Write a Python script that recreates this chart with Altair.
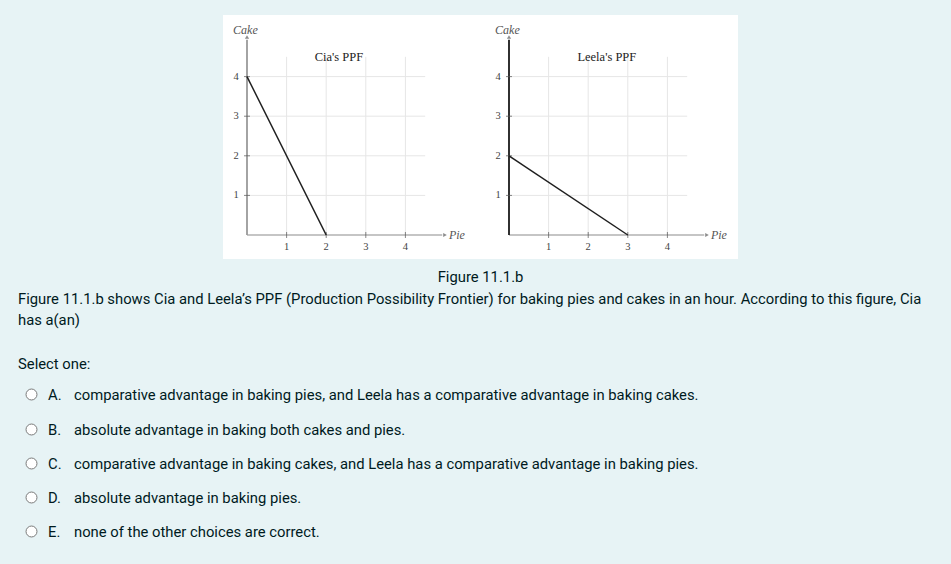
import altair as alt
import pandas as pd

W, H = 951, 564
BG = "#e7f3f5"
TXT = "#001a1e"
SANS = "Roboto"
SERIF = "Liberation Serif"

# ---- data ----
tick_values = [1, 2, 3, 4]
tick_labels = ["1", "2", "3", "4"]
cia_pie = [0, 2]
cia_cake = [4, 0]
leela_pie = [0, 3]
leela_cake = [2, 0]
titles = ["Cia's PPF", "Leela's PPF"]

caption = "Figure 11.1.b"
question = [
    "Figure 11.1.b shows Cia and Leela\u2019s PPF (Production Possibility Frontier) for baking pies and cakes in an hour. According to this figure, Cia",
    "has a(an)",
]
prompt = "Select one:"
letters = ["A.", "B.", "C.", "D.", "E."]
choices = [
    "comparative advantage in baking pies, and Leela has a comparative advantage in baking cakes.",
    "absolute advantage in baking both cakes and pies.",
    "comparative advantage in baking cakes, and Leela has a comparative advantage in baking pies.",
    "absolute advantage in baking pies.",
    "none of the other choices are correct.",
]

ONE = alt.Data(values=[{}])


def panel(ox, oy, unit, pie, cake, title, title_x, yaxis_color, yaxis_w):
    xs = alt.Scale(domain=[-ox / unit, (W - ox) / unit], range=[0, W], nice=False, zero=False)
    ys = alt.Scale(domain=[(oy - H) / unit, oy / unit], range=[H, 0], nice=False, zero=False)
    X = lambda f, **k: alt.X(f, scale=xs, axis=None, **k)
    Y = lambda f, **k: alt.Y(f, scale=ys, axis=None, **k)

    g = pd.DataFrame({"v": tick_values, "lab": tick_labels, "lo": 0.0, "hi": 4.5})
    vgrid = alt.Chart(g).mark_rule(color="#e6e6e6", strokeWidth=1).encode(
        x=X("v:Q"), y=Y("lo:Q"), y2="hi:Q")
    hgrid = alt.Chart(g).mark_rule(color="#e6e6e6", strokeWidth=1).encode(
        y=Y("v:Q"), x=X("lo:Q"), x2="hi:Q")

    ax = pd.DataFrame({"a": [0.0], "b": [4.93], "end": [5.0]})
    xaxis = alt.Chart(ax).mark_rule(color="#8c8c8c", strokeWidth=1.2).encode(
        x=X("a:Q"), x2="b:Q", y=Y("a:Q"))
    yaxis = alt.Chart(ax).mark_rule(color=yaxis_color, strokeWidth=yaxis_w).encode(
        y=Y("a:Q"), y2="b:Q", x=X("a:Q"))
    xarrow = alt.Chart(ax).mark_point(shape="triangle-right", filled=True, size=18,
                                      color="#8c8c8c", opacity=1).encode(
        x=X("end:Q"), y=Y("a:Q"))
    yarrow = alt.Chart(ax).mark_point(shape="triangle-up", filled=True, size=18,
                                      color="#8c8c8c", opacity=1).encode(
        x=X("a:Q"), y=Y("end:Q"))

    xticks = alt.Chart(g).mark_tick(orient="vertical", size=6, thickness=1, color="#555").encode(
        x=X("v:Q"), y=Y("lo:Q"))
    yticks = alt.Chart(g).mark_tick(orient="horizontal", size=6, thickness=1, color="#555").encode(
        y=Y("v:Q"), x=X("lo:Q"))
    xlabs = alt.Chart(g).mark_text(font=SERIF, fontSize=10.5, color="#444", dy=12,
                                   baseline="middle", align="center").encode(
        x=X("v:Q"), y=Y("lo:Q"), text="lab:N")
    ylabs = alt.Chart(g).mark_text(font=SERIF, fontSize=10.5, color="#444", dx=-11,
                                   baseline="middle", align="center").encode(
        y=Y("v:Q"), x=X("lo:Q"), text="lab:N")

    ppf = alt.Chart(pd.DataFrame({"pie": pie, "cake": cake})).mark_line(
        color="#1e1e1e", strokeWidth=1.5).encode(x=X("pie:Q"), y=Y("cake:Q"))

    lab = pd.DataFrame({"t": [title], "tx": [title_x], "ty": [4.5],
                        "cx": [-0.04], "cy": [5.18], "px": [5.1], "py": [0.0],
                        "cake": ["Cake"], "pie": ["Pie"]})
    ttl = alt.Chart(lab).mark_text(font=SERIF, fontSize=12.5, color="#222",
                                   baseline="middle", align="center").encode(
        x=X("tx:Q"), y=Y("ty:Q"), text="t:N")
    cake_t = alt.Chart(lab).mark_text(font=SERIF, fontSize=12, fontStyle="italic", color="#555",
                                      baseline="middle", align="center").encode(
        x=X("cx:Q"), y=Y("cy:Q"), text="cake:N")
    pie_t = alt.Chart(lab).mark_text(font=SERIF, fontSize=12, fontStyle="italic", color="#555",
                                     baseline="middle", align="left").encode(
        x=X("px:Q"), y=Y("py:Q"), text="pie:N")

    return alt.layer(vgrid, hgrid, xaxis, yaxis, xarrow, yarrow, xticks, yticks,
                     xlabs, ylabs, ppf, ttl, cake_t, pie_t)


left = panel(247, 235, 39.6, cia_pie, cia_cake, titles[0], 2.32, "#9a9a9a", 1.8)
right = panel(509, 235, 39.6, leela_pie, leela_cake, titles[1], 2.47, "#1a1a1a", 1.8)

box = alt.Chart(ONE).mark_rect(color="white").encode(
    x=alt.value(223), x2=alt.value(738), y=alt.value(15), y2=alt.value(259))


def line(txt, x, y, align="left", size=14.8):
    return alt.Chart(ONE).mark_text(text=txt, font=SANS, fontSize=size, color=TXT,
                                    align=align, baseline="alphabetic").encode(
        x=alt.value(x), y=alt.value(y))


texts = [line(caption, 480.5, 282, align="center"),
         line(question[0], 18, 304),
         line(question[1], 18, 325),
         line(prompt, 18, 369)]

opt_base = [400, 435, 469, 503, 537]
for i in range(5):
    texts.append(alt.Chart(ONE).mark_point(shape="circle", filled=True, fill="white",
                                           stroke="#7a7a7a", strokeWidth=1, size=120,
                                           opacity=1).encode(
        x=alt.value(31.5), y=alt.value(opt_base[i] - 5.5)))
    texts.append(line(letters[i], 48, opt_base[i]))
    texts.append(line(choices[i], 74, opt_base[i]))

chart = alt.layer(box, left, right, *texts).resolve_scale(
    x="independent", y="independent"
).properties(
    width=W, height=H, padding=0, autosize=alt.AutoSizeParams(type="none"),
    background=BG
).configure_view(stroke=None)

chart.save("out.html", embed_options={"renderer": "svg", "actions": False})
